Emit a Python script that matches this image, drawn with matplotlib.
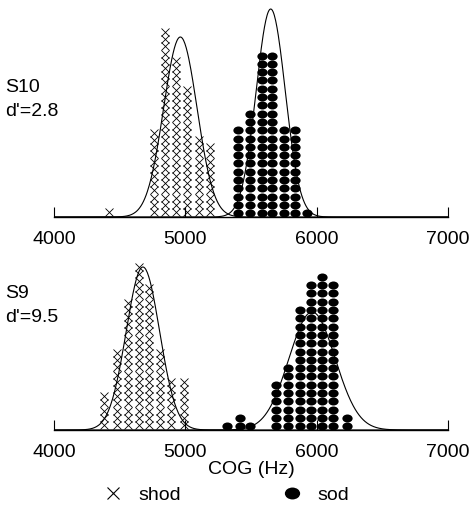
import numpy as np
import matplotlib
matplotlib.use('Agg')
import matplotlib.pyplot as plt
from matplotlib.lines import Line2D
from matplotlib.path import Path
from matplotlib import rcParams

rcParams['font.family'] = ['Liberation Sans', 'DejaVu Sans']
rcParams['font.size'] = 14

# S10 (top panel): bin centres (Hz) and number of tokens per bin
s10_shod_hz = [4420, 4758, 4842, 4929, 5013, 5102, 5185]
s10_shod_n = [1, 12, 26, 22, 18, 11, 10]
s10_sod_hz = [5402, 5490, 5580, 5662, 5750, 5834, 5924]
s10_sod_n = [11, 13, 20, 20, 11, 11, 1]

# S9 (bottom panel)
s9_shod_hz = [4384, 4478, 4560, 4644, 4725, 4809, 4893, 4987]
s9_shod_n = [5, 11, 18, 23, 20, 11, 7, 7]
s9_sod_hz = [5318, 5414, 5496, 5687, 5781, 5870, 5954, 6043, 6127, 6229]
s9_sod_n = [1, 2, 1, 6, 8, 15, 18, 19, 18, 2]

# fitted normal curves: (mean Hz, sd Hz, peak height)
s10_fit = [(4962, 127, 180), (5650, 111, 208)]
s9_fit = [(4677, 127, 163), (5965, 176, 118)]

speakers = ['S10', 'S9']
dprimes = ["d'=2.8", "d'=9.5"]

xticks = [4000, 5000, 6000, 7000]

# slightly flattened filled dot for "sod"
circ = Path.unit_circle()
dot = Path(circ.vertices * [1.0, 0.78], circ.codes)


def stack(hz, n, y0, step):
    xs = np.repeat(hz, n)
    ys = np.concatenate([y0 + step * np.arange(k) for k in n])
    return xs, ys


def panel(ax, shod_hz, shod_n, sod_hz, sod_n, fits, top):
    xs, ys = stack(shod_hz, shod_n, 5, 7.2)
    ax.plot(xs, ys, ls='none', marker='x', ms=5.8, mew=0.6, color='k')
    xs, ys = stack(sod_hz, sod_n, 3.8, 8.3)
    ax.plot(xs, ys, ls='none', marker=dot, ms=7.4, color='k', mew=0)

    xx = np.linspace(4000, 7000, 600)
    for mu, sd, pk in fits:
        ax.plot(xx, pk * np.exp(-0.5 * ((xx - mu) / sd) ** 2), color='k', lw=0.8)

    ax.set_xlim(4000, 7000)
    ax.set_ylim(0, top)
    for s in ['top', 'left', 'right']:
        ax.spines[s].set_visible(False)
    ax.spines['bottom'].set_linewidth(1.0)
    ax.set_yticks([])
    ax.set_xticks(xticks)
    ax.tick_params(axis='x', direction='in', length=7.5, width=0.8, pad=10,
                   labelsize=14)


fig = plt.figure(figsize=(4.75, 5.11), dpi=100)
W, H = 475.0, 511.0

ax1 = fig.add_axes([54 / W, (H - 217) / H, 394 / W, 214 / H])
panel(ax1, s10_shod_hz, s10_shod_n, s10_sod_hz, s10_sod_n, s10_fit, 214)

ax2 = fig.add_axes([54 / W, (H - 430) / H, 394 / W, 185 / H])
panel(ax2, s9_shod_hz, s9_shod_n, s9_sod_hz, s9_sod_n, s9_fit, 185)
ax2.set_xlabel('COG (Hz)', fontsize=14, labelpad=0)

for name, dp, y in zip(speakers, dprimes, [88, 294]):
    fig.text(5 / W, 1 - y / H, name, ha='left', va='center', fontsize=14)
    fig.text(5 / W, 1 - (y + 24) / H, dp, ha='left', va='center', fontsize=14)

handles = [
    Line2D([], [], ls='none', marker='x', ms=9, mew=0.8, color='k'),
    Line2D([], [], ls='none', marker=dot, ms=11, mew=0, color='k'),
]
fig.legend(handles, ['shod', 'sod'], loc='center', ncol=2,
           bbox_to_anchor=(226 / W, 1 - 495 / H), frameon=False,
           handlelength=1.0, handletextpad=0.8, columnspacing=5.2,
           fontsize=14)

fig.savefig('out.png', dpi=100)
